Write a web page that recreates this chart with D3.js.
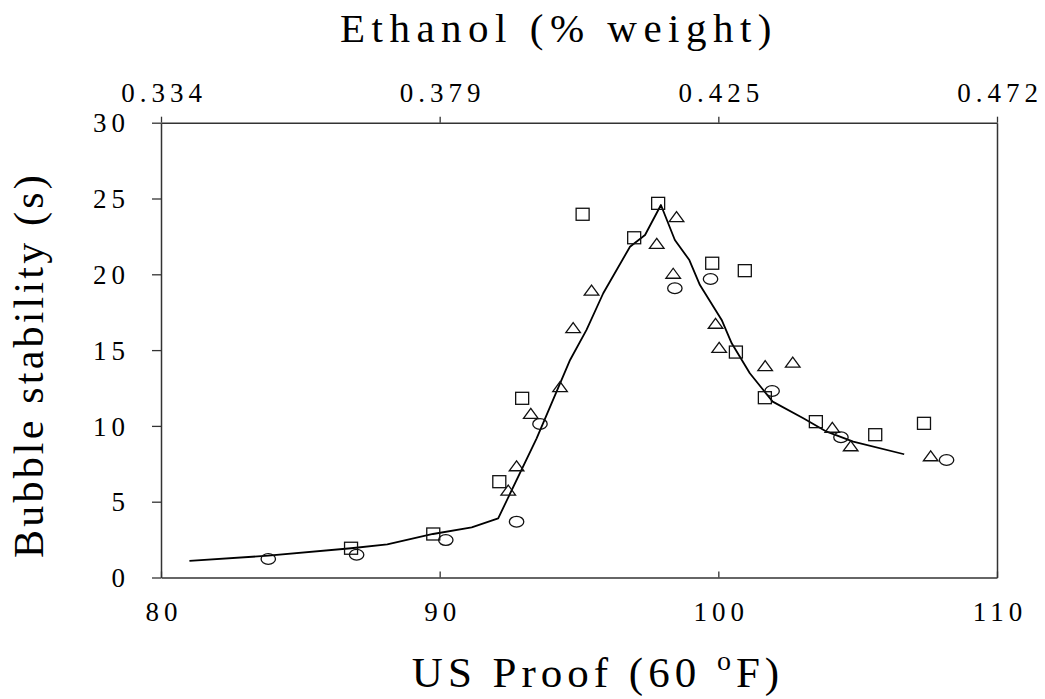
<!DOCTYPE html>
<html>
<head>
<meta charset="utf-8">
<script src="https://cdn.jsdelivr.net/npm/d3@7/dist/d3.min.js"></script>
<style>
  body { margin: 0; background: #fff; }
  svg text { font-family: "Liberation Serif", "Times New Roman", serif; fill: #000; }
</style>
</head>
<body>
<div class="svg-area"></div>
<script>
// proof ticks and the matching ethanol labels on the top axis
let proofTicks = [80, 90, 100, 110];
let ethanolLabels = ["0.334", "0.379", "0.425", "0.472"];
let yTicks = [0, 5, 10, 15, 20, 25, 30];

// measured points [US proof, bubble stability (s)]
let circles = [
    [83.85, 1.22], [87.02, 1.50], [90.22, 2.47], [92.76, 3.68], [93.60, 10.13],
    [98.44, 19.08], [99.72, 19.69], [101.93, 12.30], [104.40, 9.25], [108.19, 7.75]
];
let squares = [
    [86.82, 1.93], [89.77, 2.87], [92.14, 6.32], [92.96, 11.82], [95.13, 23.96],
    [96.98, 22.41], [97.84, 24.68], [99.78, 20.73], [100.95, 20.24], [100.63, 14.87],
    [101.67, 11.86], [103.50, 10.28], [105.63, 9.42], [107.38, 10.17]
];
let triangles = [
    [92.46, 5.77], [92.76, 7.37], [93.27, 10.83], [94.32, 12.59], [94.79, 16.48],
    [95.45, 18.96], [97.79, 22.04], [98.50, 23.80], [98.38, 20.07], [99.90, 16.77],
    [100.03, 15.18], [101.68, 13.97], [102.67, 14.21], [104.09, 9.91], [104.75, 8.69],
    [107.62, 8.03]
];
// fitted curve
let curve = [
    [81.02, 1.09], [83.85, 1.44], [86.82, 1.93], [88.12, 2.19], [89.76, 2.87],
    [91.15, 3.31], [92.10, 3.90], [93.48, 9.18], [94.68, 14.35], [95.27, 16.33],
    [95.87, 18.75], [96.83, 21.82], [97.37, 22.59], [97.94, 24.57], [98.44, 22.26],
    [98.96, 20.94], [99.34, 19.29], [100.12, 16.99], [100.48, 15.45], [101.13, 13.47],
    [101.95, 11.60], [103.05, 10.50], [103.89, 9.62], [104.84, 8.96], [106.67, 8.13]
];

let plotLeft = 161, plotRight = 997, plotTop = 122.7, plotBottom = 577.5;

let svg = d3.select(".svg-area").append("svg")
    .attr("width", 1045)
    .attr("height", 699);

let x = d3.scaleLinear().domain([80, 110]).range([plotLeft, plotRight]);
let y = d3.scaleLinear().domain([0, 30]).range([plotBottom, plotTop]);

let axisColor = "#333";

// left axis, ticks outward
let gLeft = svg.append("g")
    .attr("transform", "translate(" + plotLeft + ",0)")
    .call(d3.axisLeft(y).tickValues(yTicks).tickSize(9).tickSizeOuter(0));

// bottom axis, ticks inward
let gBottom = svg.append("g")
    .attr("transform", "translate(0," + plotBottom + ")")
    .call(d3.axisBottom(x).tickValues(proofTicks).tickSize(-6).tickSizeOuter(0));

// top axis with ethanol labels
let gTop = svg.append("g")
    .attr("transform", "translate(0," + plotTop + ")")
    .call(d3.axisTop(x).tickValues(proofTicks).tickSize(6).tickSizeOuter(0)
        .tickFormat(function (d, i) { return ethanolLabels[i]; }));

// right frame line
let gRight = svg.append("g")
    .attr("transform", "translate(" + plotRight + ",0)")
    .call(d3.axisRight(y).tickValues([]).tickSizeOuter(0));

[gLeft, gBottom, gTop, gRight].forEach(function (g) {
    g.select(".domain").attr("stroke", axisColor).attr("stroke-width", 1.5);
    g.selectAll(".tick line").attr("stroke", axisColor).attr("stroke-width", 1.3);
    g.selectAll(".tick text")
        .attr("font-size", 27)
        .attr("letter-spacing", 5)
        .attr("fill", "#000");
});

gLeft.selectAll(".tick text")
    .attr("x", -36 + 5)
    .attr("dy", "0.34em");
gBottom.selectAll(".tick text")
    .attr("y", 43)
    .attr("dy", 0)
    .attr("dx", 2.5);
gTop.selectAll(".tick text")
    .attr("y", -21)
    .attr("dy", 0)
    .attr("dx", 2.5);

// fitted line
let line = d3.line()
    .x(function (d) { return x(d[0]); })
    .y(function (d) { return y(d[1]); });

svg.append("path")
    .datum(curve)
    .attr("d", line)
    .attr("fill", "none")
    .attr("stroke", "#000")
    .attr("stroke-width", 1.8)
    .attr("stroke-linejoin", "round");

let markerStroke = "#111";

svg.selectAll(".sq").data(squares).enter().append("rect")
    .attr("class", "sq")
    .attr("x", function (d) { return x(d[0]) - 6.5; })
    .attr("y", function (d) { return y(d[1]) - 6; })
    .attr("width", 13)
    .attr("height", 12)
    .attr("fill", "none")
    .attr("stroke", markerStroke)
    .attr("stroke-width", 1.3);

svg.selectAll(".tri").data(triangles).enter().append("path")
    .attr("class", "tri")
    .attr("d", "M-7.3,5L7.3,5L0,-5Z")
    .attr("transform", function (d) { return "translate(" + x(d[0]) + "," + y(d[1]) + ")"; })
    .attr("fill", "none")
    .attr("stroke", markerStroke)
    .attr("stroke-width", 1.3)
    .attr("stroke-linejoin", "miter");

svg.selectAll(".circ").data(circles).enter().append("ellipse")
    .attr("class", "circ")
    .attr("cx", function (d) { return x(d[0]); })
    .attr("cy", function (d) { return y(d[1]); })
    .attr("rx", 7.2)
    .attr("ry", 5.4)
    .attr("fill", "none")
    .attr("stroke", markerStroke)
    .attr("stroke-width", 1.3);

// titles
svg.append("text")
    .attr("x", 559)
    .attr("y", 42)
    .attr("text-anchor", "middle")
    .attr("font-size", 41)
    .attr("letter-spacing", 6.5)
    .text("Ethanol (% weight)");

let xl = svg.append("text")
    .attr("x", 598)
    .attr("y", 687)
    .attr("text-anchor", "middle")
    .attr("font-size", 43)
    .attr("letter-spacing", 5);
xl.append("tspan").text("US Proof (60 ");
xl.append("tspan").attr("font-size", 28).attr("dy", -17).text("o");
xl.append("tspan").attr("dy", 17).text("F)");

svg.append("text")
    .attr("transform", "translate(43,365) rotate(-90)")
    .attr("text-anchor", "middle")
    .attr("font-size", 42)
    .attr("letter-spacing", 3.2)
    .text("Bubble stability (s)");
</script>
</body>
</html>
